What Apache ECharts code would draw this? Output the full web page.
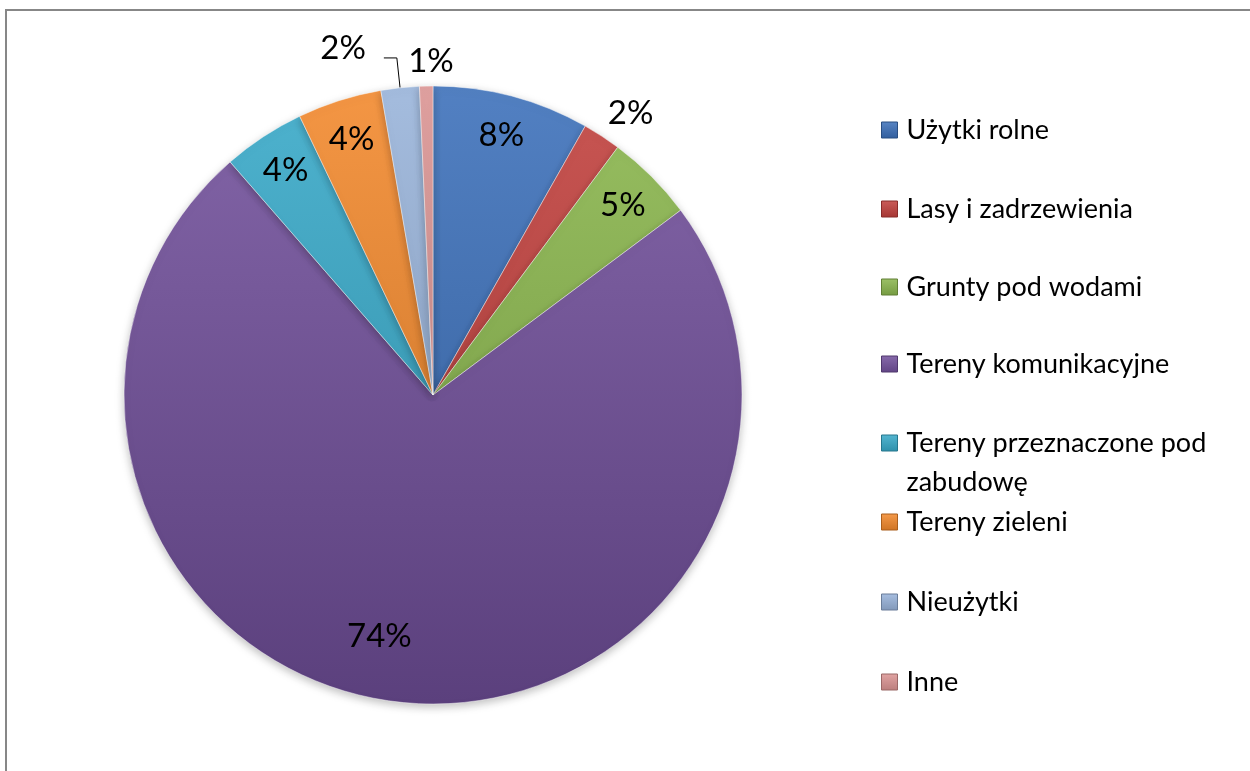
<!DOCTYPE html>
<html>
<head>
<meta charset="utf-8">
<script src="https://cdn.jsdelivr.net/npm/echarts@6/dist/echarts.min.js"></script>
<style>
html,body{margin:0;padding:0;background:#fff;}
#c{width:1250px;height:771px;}
</style>
</head>
<body>
<div id="c"></div>
<script>
const categories = ['Użytki rolne','Lasy i zadrzewienia','Grunty pod wodami','Tereny komunikacyjne','Tereny przeznaczone pod zabudowę','Tereny zieleni','Nieużytki','Inne'];
const values = [8.2, 2.0, 4.6, 73.8, 4.3, 4.4, 2.0, 0.7];
const colors = ['#3a6fba','#c23f3c','#8ab64c','#72509c','#36a9c9','#f3882a','#98b3da','#dc9493'];
const legendCenters = [130, 209, 287, 364, 443, 522, 602, 682];

function shade(hex, f){
  const n = parseInt(hex.slice(1),16);
  let r=(n>>16)&255, g=(n>>8)&255, b=n&255;
  if(f>=0){ r=r+(255-r)*f; g=g+(255-g)*f; b=b+(255-b)*f; }
  else { r=r*(1+f); g=g*(1+f); b=b*(1+f); }
  return 'rgb('+Math.round(r)+','+Math.round(g)+','+Math.round(b)+')';
}
function grad(c){
  return {type:'linear', x:0, y:86, x2:0, y2:704, global:true,
    colorStops:[{offset:0,color:shade(c,0.12)},{offset:1,color:shade(c,-0.2)}]};
}

const CX = 433, CY = 395, R = 309;
const FONT = 'Lato';

const mainData = categories.map((n,i)=>({name:n, value:values[i], itemStyle:{color:grad(colors[i])}}));
const labelCfg = {
  1: {label:{position:'outside', offset:[-10,-6]}, labelLine:{show:false, length:20, length2:0}},
  3: {label:{offset:[-25,-26]}},
  6: {label:{position:'outside', offset:[-13,-10]}, labelLine:{show:true, length:30, length2:13, lineStyle:{color:'#000', width:1}}},
  7: {label:{position:'outside', offset:[33,-7]}, labelLine:{show:false, length:18, length2:0}}
};
const labelData = categories.map((n,i)=>{
  const d = {name:n, value:values[i]};
  if(labelCfg[i]){ Object.assign(d, labelCfg[i]); }
  return d;
});

const legends = categories.map((n,i)=>{
  const multi = i===4;
  return {
    left: 881,
    top: multi ? legendCenters[i]-58.5 : legendCenters[i]-16,
    orient:'vertical',
    padding:0,
    itemWidth:16, itemHeight:16,
    icon:'rect',
    selectedMode:false,
    formatter: multi ? ' \nTereny przeznaczone pod\nzabudowę' : '{name}',
    textStyle:{fontFamily:FONT, fontSize:27, color:'#000', lineHeight: multi?39:32, padding:[0,0,0,4]},
    data:[{name:n, itemStyle:{color:{type:'linear',x:0,y:0,x2:0,y2:1,colorStops:[{offset:0,color:shade(colors[i],0.15)},{offset:1,color:shade(colors[i],-0.15)}]}, borderColor:shade(colors[i],-0.3), borderWidth:1}}]
  };
});

const chart = echarts.init(document.getElementById('c'), null, {renderer:'canvas'});
chart.setOption({
  animation:false,
  backgroundColor:'#fff',
  graphic:[{type:'rect', shape:{x:6, y:10, width:1400, height:1000}, style:{fill:'none', stroke:'#878787', lineWidth:2}, silent:true}],
  legend: legends,
  series:[
    {
      type:'pie', center:[CX,CY], radius:R, startAngle:90, clockwise:true,
      label:{show:false}, labelLine:{show:false},
      itemStyle:{borderColor:'rgba(255,255,255,0.45)', borderWidth:1, shadowBlur:8, shadowOffsetY:3, shadowColor:'rgba(0,0,0,0.25)'},
      emphasis:{disabled:true},
      silent:true,
      data: mainData
    },
    {
      type:'pie', center:[CX,CY], radius:[222,R], startAngle:90, clockwise:true,
      avoidLabelOverlap:false,
      itemStyle:{color:'rgba(0,0,0,0)'},
      emphasis:{disabled:true},
      silent:true,
      label:{show:true, position:'inside', fontFamily:FONT, fontSize:33, color:'#000',
        formatter:p=>Math.round(p.percent)+'%'},
      data: labelData
    }
  ]
});
</script>
</body>
</html>
